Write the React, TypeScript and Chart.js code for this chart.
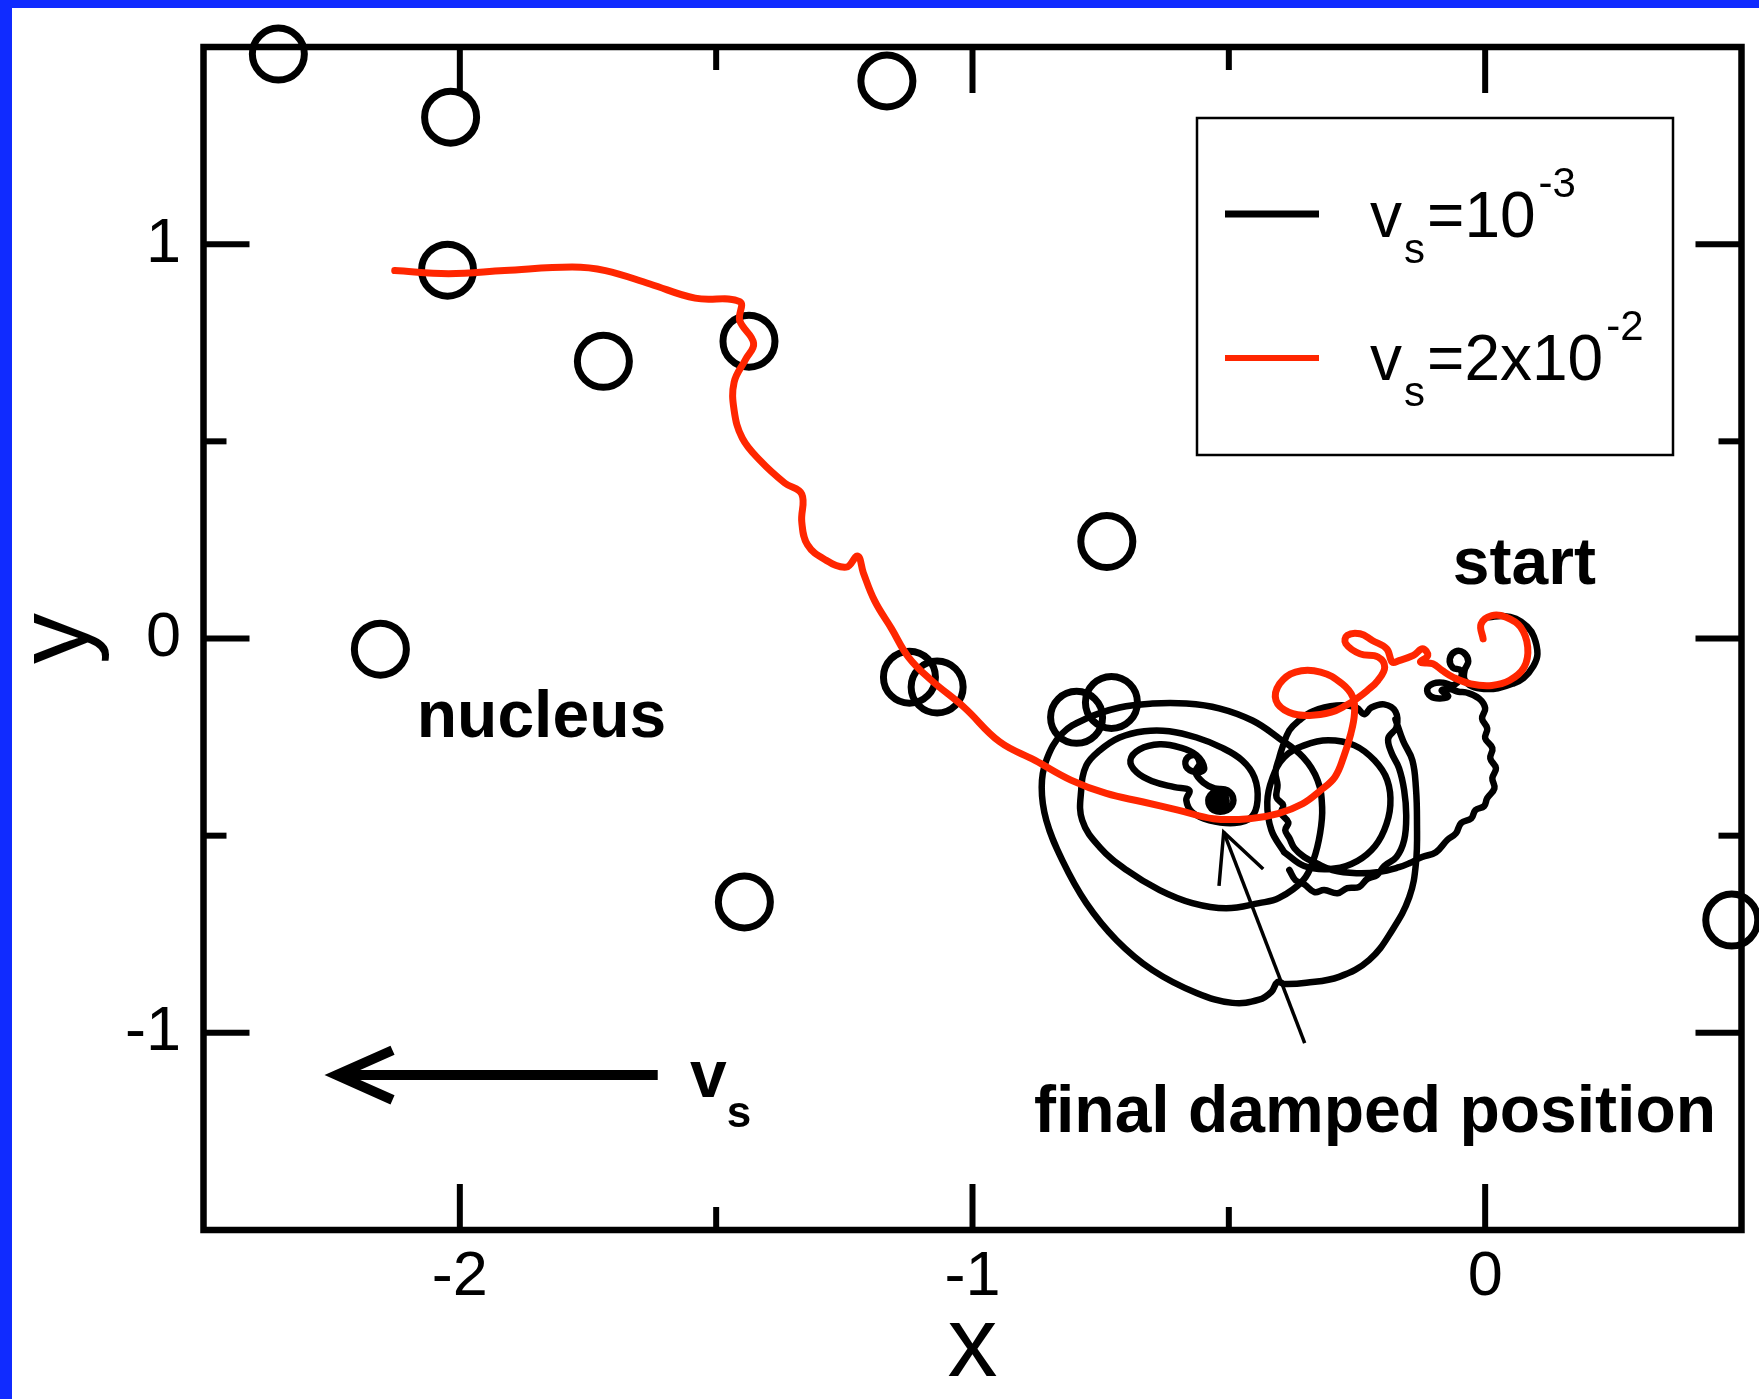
import React, { useEffect, useRef } from "react";
import { Chart, registerables } from "chart.js";

Chart.register(...registerables);

// ---------- data ----------
const X_MIN = -2.5;
const X_MAX = 0.5;
const Y_MIN = -1.5;
const Y_MAX = 1.5;
const X_MAJOR = [-2, -1, 0];
const X_MINOR = [-1.5, -0.5];
const Y_MAJOR = [-1, 0, 1];
const Y_MINOR = [-0.5, 0.5];

// pinning sites (open circles)
const PINS: [number, number][] = [
  [-2.354, 1.482], [-2.018, 1.322], [-1.167, 1.414], [-2.024, 0.934],
  [-1.72, 0.703], [-1.436, 0.754], [-0.738, 0.246], [-2.155, -0.027],
  [-1.123, -0.098], [-1.069, -0.123], [-0.797, -0.2], [-0.729, -0.162],
  [-1.445, -0.668], [0.481, -0.714],
];

// red trajectory, v_s = 2x10^-2 (from start to end)
const RED_PATH: [number, number][] = [
  [-0.004, -0.001], [-0.008, 0.037], [0.013, 0.058], [0.041, 0.054], [0.069, 0.029],
  [0.083, -0.022], [0.076, -0.073], [0.048, -0.106], [0.013, -0.119], [-0.028, -0.115],
  [-0.063, -0.098], [-0.084, -0.081], [-0.102, -0.064], [-0.126, -0.06], [-0.112, -0.043],
  [-0.122, -0.026], [-0.14, -0.043], [-0.168, -0.056], [-0.181, -0.06], [-0.192, -0.026],
  [-0.22, -0.005], [-0.244, 0.012], [-0.269, 0.008], [-0.272, -0.013], [-0.244, -0.039],
  [-0.209, -0.047], [-0.196, -0.073], [-0.209, -0.106], [-0.23, -0.132], [-0.251, -0.153],
  [-0.272, -0.17], [-0.3, -0.187], [-0.342, -0.195], [-0.383, -0.187], [-0.408, -0.157],
  [-0.401, -0.115], [-0.37, -0.085], [-0.321, -0.085], [-0.279, -0.115], [-0.258, -0.149],
  [-0.255, -0.191], [-0.262, -0.241], [-0.276, -0.3], [-0.293, -0.351], [-0.321, -0.385],
  [-0.356, -0.419], [-0.404, -0.444], [-0.46, -0.457], [-0.53, -0.457], [-0.599, -0.435],
  [-0.669, -0.414], [-0.739, -0.393], [-0.808, -0.359], [-0.878, -0.309], [-0.947, -0.262],
  [-1.016, -0.175], [-1.082, -0.104], [-1.125, -0.047], [-1.158, 0.025], [-1.191, 0.096],
  [-1.213, 0.167], [-1.224, 0.209], [-1.246, 0.181], [-1.289, 0.201], [-1.322, 0.238],
  [-1.333, 0.295], [-1.333, 0.366], [-1.366, 0.394], [-1.414, 0.451], [-1.449, 0.508],
  [-1.465, 0.579], [-1.465, 0.65], [-1.443, 0.707], [-1.427, 0.749], [-1.454, 0.806],
  [-1.454, 0.854], [-1.541, 0.863], [-1.629, 0.899], [-1.716, 0.933], [-1.781, 0.942],
  [-1.913, 0.933], [-2.022, 0.925], [-2.127, 0.933],
];

// black trajectory, v_s = 10^-3, in three drawn pieces
const BLACK_START: [number, number][] = [
  [0.008, 0.054], [0.035, 0.057], [0.06, 0.05], [0.082, 0.03], [0.095, 0.005], [0.102, -0.039],
  [0.094, -0.07], [0.075, -0.1], [0.053, -0.115], [0.025, -0.126], [0.0, -0.128], [-0.025, -0.122],
  [-0.04, -0.105], [-0.04, -0.08], [-0.033, -0.058], [-0.042, -0.036], [-0.058, -0.033],
  [-0.069, -0.052], [-0.063, -0.074], [-0.048, -0.08], [-0.047, -0.098],
  [-0.062, -0.118], [-0.082, -0.112], [-0.101, -0.114], [-0.113, -0.128], [-0.106, -0.147],
  [-0.088, -0.152], [-0.072, -0.146], [-0.085, -0.132], [-0.07, -0.128], [-0.052, -0.135],
  [-0.037, -0.137],
  [-0.012, -0.152], [0.0, -0.177], [-0.006, -0.203], [0.004, -0.228], [0.0, -0.253],
  [0.014, -0.278], [0.01, -0.304], [0.021, -0.329], [0.014, -0.354], [0.018, -0.38],
  [0.004, -0.405], [-0.002, -0.425], [-0.019, -0.435], [-0.027, -0.456], [-0.047, -0.468],
  [-0.057, -0.494], [-0.074, -0.511], [-0.096, -0.542], [-0.123, -0.554], [-0.148, -0.57],
  [-0.168, -0.58], [-0.207, -0.592], [-0.251, -0.595], [-0.298, -0.587], [-0.329, -0.57],
  [-0.353, -0.554], [-0.372, -0.532],
  [-0.382, -0.506], [-0.39, -0.486], [-0.384, -0.466], [-0.398, -0.443], [-0.394, -0.423],
  [-0.407, -0.403], [-0.405, -0.372], [-0.409, -0.339], [-0.402, -0.304], [-0.396, -0.278],
  [-0.382, -0.233], [-0.363, -0.208], [-0.337, -0.185], [-0.29, -0.17], [-0.251, -0.175],
  [-0.236, -0.192], [-0.222, -0.175], [-0.197, -0.167], [-0.175, -0.185], [-0.173, -0.225],
  [-0.189, -0.253],
  [-0.183, -0.289], [-0.168, -0.329], [-0.158, -0.385], [-0.154, -0.448], [-0.158, -0.511],
  [-0.173, -0.554],
  [-0.197, -0.577], [-0.211, -0.6], [-0.23, -0.61], [-0.246, -0.63], [-0.269, -0.633],
  [-0.288, -0.646], [-0.314, -0.638], [-0.333, -0.643], [-0.353, -0.623], [-0.37, -0.613],
  [-0.382, -0.587],
];

const BLACK_LOOP: [number, number][] = [
  [-0.392, -0.542], [-0.417, -0.486], [-0.425, -0.415], [-0.415, -0.354], [-0.392, -0.301],
  [-0.353, -0.271], [-0.306, -0.258], [-0.255, -0.271], [-0.216, -0.309], [-0.191, -0.359],
  [-0.185, -0.423], [-0.197, -0.486], [-0.222, -0.537], [-0.261, -0.572], [-0.306, -0.585],
  [-0.353, -0.577], [-0.392, -0.542],
];

const BLACK_SPIRAL: [number, number][] = [
  [-0.175, -0.205], [-0.16, -0.26], [-0.142, -0.309], [-0.135, -0.38], [-0.133, -0.461],
  [-0.135, -0.57], [-0.148, -0.656], [-0.181, -0.739], [-0.226, -0.815], [-0.285, -0.858],
  [-0.349, -0.873], [-0.392, -0.876], [-0.405, -0.871], [-0.417, -0.896], [-0.441, -0.916],
  [-0.493, -0.924], [-0.563, -0.899], [-0.649, -0.841], [-0.719, -0.765], [-0.778, -0.671],
  [-0.825, -0.562], [-0.856, -0.461], [-0.865, -0.377], [-0.856, -0.309], [-0.825, -0.241],
  [-0.778, -0.203], [-0.713, -0.175], [-0.649, -0.165], [-0.583, -0.165], [-0.519, -0.177],
  [-0.454, -0.208], [-0.402, -0.253], [-0.355, -0.301], [-0.327, -0.359], [-0.318, -0.428],
  [-0.322, -0.494], [-0.335, -0.562], [-0.355, -0.613], [-0.402, -0.658], [-0.441, -0.671],
  [-0.505, -0.684], [-0.571, -0.671], [-0.635, -0.638], [-0.7, -0.587], [-0.752, -0.529],
  [-0.786, -0.461], [-0.788, -0.385], [-0.778, -0.322], [-0.752, -0.284], [-0.713, -0.251],
  [-0.665, -0.235], [-0.616, -0.235], [-0.563, -0.251], [-0.515, -0.276], [-0.474, -0.309],
  [-0.45, -0.352], [-0.444, -0.41], [-0.456, -0.453], [-0.489, -0.468], [-0.538, -0.461],
  [-0.571, -0.441], [-0.583, -0.41], [-0.577, -0.385],
  [-0.606, -0.377], [-0.649, -0.362], [-0.68, -0.339], [-0.692, -0.309], [-0.674, -0.281],
  [-0.635, -0.268], [-0.596, -0.276], [-0.563, -0.296], [-0.548, -0.329],
  [-0.559, -0.339], [-0.581, -0.329], [-0.583, -0.306], [-0.567, -0.296], [-0.557, -0.316],
  [-0.565, -0.339],
  [-0.55, -0.365], [-0.528, -0.38], [-0.503, -0.385], [-0.491, -0.41], [-0.503, -0.435],
  [-0.53, -0.435], [-0.54, -0.41], [-0.528, -0.39], [-0.507, -0.4], [-0.507, -0.423],
  [-0.526, -0.423], [-0.526, -0.403], [-0.513, -0.41], [-0.519, -0.415],
];

// annotations (anchors in data units)
const LABELS = [
  { text: "nucleus", x: -2.084, y: -0.25 },
  { text: "start", x: -0.063, y: 0.138 },
  { text: "final damped position", x: -0.88, y: -1.252 },
];
const VS_LABEL = { x: -1.551, y: -1.163 };
const VS_ARROW = { from: [-1.614, -1.107], to: [-2.24, -1.107] };
const FINAL_ARROW = { from: [-0.352, -1.026], to: [-0.51, -0.491] };

const LEGEND_ROWS = [
  { base: "10", sup: "-3", color: "#000000", width: 7 },
  { base: "2x10", sup: "-2", color: "#ff2600", width: 6 },
];

// ---------- styling ----------
const FONT = "'Liberation Sans', Arial, Helvetica, sans-serif";
const RED = "#ff2600";
const BLUE = "#102bff";

const toPts = (arr: [number, number][]) => arr.map(([x, y]) => ({ x, y }));
const GAP = { x: null as any, y: null as any };

function arrow(ctx: CanvasRenderingContext2D, x0: number, y0: number, x1: number, y1: number, lw: number, wing: number, ang: number) {
  ctx.save();
  ctx.strokeStyle = "#000";
  ctx.lineWidth = lw;
  ctx.lineCap = "butt";
  ctx.beginPath();
  ctx.moveTo(x0, y0);
  ctx.lineTo(x1, y1);
  ctx.stroke();
  const a = Math.atan2(y0 - y1, x0 - x1);
  ctx.beginPath();
  ctx.moveTo(x1 + wing * Math.cos(a + ang), y1 + wing * Math.sin(a + ang));
  ctx.lineTo(x1, y1);
  ctx.lineTo(x1 + wing * Math.cos(a - ang), y1 + wing * Math.sin(a - ang));
  ctx.lineJoin = "miter";
  ctx.stroke();
  ctx.restore();
}

const zeroPadding = (s: any) => {
  s.paddingTop = 0;
  s.paddingBottom = 0;
  s.paddingLeft = 0;
  s.paddingRight = 0;
};

const overlayPlugin = {
  id: "overlay",
  beforeDatasetsDraw(chart: any) {
    const { ctx, chartArea: a, scales } = chart;
    const xs = scales.x;
    const ys = scales.y;
    ctx.save();
    ctx.strokeStyle = "#000";
    ctx.lineWidth = 6.5;
    ctx.strokeRect(a.left, a.top, a.right - a.left, a.bottom - a.top);
    ctx.lineWidth = 6;
    const tick = (x0: number, y0: number, x1: number, y1: number) => {
      ctx.beginPath();
      ctx.moveTo(x0, y0);
      ctx.lineTo(x1, y1);
      ctx.stroke();
    };
    for (const v of [...X_MAJOR, ...X_MINOR]) {
      const len = X_MAJOR.includes(v) ? 46 : 23;
      const p = xs.getPixelForValue(v);
      tick(p, a.bottom, p, a.bottom - len);
      tick(p, a.top, p, a.top + len);
    }
    for (const v of [...Y_MAJOR, ...Y_MINOR]) {
      const len = Y_MAJOR.includes(v) ? 46 : 23;
      const p = ys.getPixelForValue(v);
      tick(a.left, p, a.left + len, p);
      tick(a.right, p, a.right - len, p);
    }
    ctx.restore();
  },
  afterDraw(chart: any) {
    const { ctx, chartArea: a, scales } = chart;
    const xs = scales.x;
    const ys = scales.y;
    const px = (v: number) => xs.getPixelForValue(v);
    const py = (v: number) => ys.getPixelForValue(v);
    ctx.save();
    ctx.fillStyle = "#000";
    ctx.textBaseline = "alphabetic";
    ctx.textAlign = "left";
    ctx.font = `bold 66px ${FONT}`;
    for (const l of LABELS) ctx.fillText(l.text, px(l.x), py(l.y));

    // v_s label
    const vx = px(VS_LABEL.x);
    const vy = py(VS_LABEL.y);
    ctx.font = `bold 66px ${FONT}`;
    ctx.fillText("v", vx, vy);
    const vw = ctx.measureText("v").width;
    ctx.font = `bold 44px ${FONT}`;
    ctx.fillText("s", vx + vw, vy + 30);

    arrow(ctx, px(VS_ARROW.from[0]), py(VS_ARROW.from[1]), px(VS_ARROW.to[0]), py(VS_ARROW.to[1]), 10, 61, (24 * Math.PI) / 180);
    arrow(ctx, px(FINAL_ARROW.from[0]), py(FINAL_ARROW.from[1]), px(FINAL_ARROW.to[0]), py(FINAL_ARROW.to[1]), 3.5, 54, (26 * Math.PI) / 180);

    // legend
    const bx = a.left + 993.5;
    const by = a.top + 71;
    ctx.lineWidth = 2.5;
    ctx.strokeStyle = "#000";
    ctx.strokeRect(bx, by, 476, 337);
    LEGEND_ROWS.forEach((r, i) => {
      const ly = by + 96 + i * 144;
      ctx.strokeStyle = r.color;
      ctx.lineWidth = r.width;
      ctx.beginPath();
      ctx.moveTo(bx + 28, ly);
      ctx.lineTo(bx + 122, ly);
      ctx.stroke();
      const base = by + 119 + i * 143;
      let x = bx + 173;
      ctx.fillStyle = "#000";
      ctx.font = `64px ${FONT}`;
      ctx.fillText("v", x, base);
      x += ctx.measureText("v").width + 2;
      ctx.font = `42px ${FONT}`;
      ctx.fillText("s", x, base + 26);
      x += ctx.measureText("s").width + 2;
      ctx.font = `64px ${FONT}`;
      const main = "=" + r.base;
      ctx.fillText(main, x, base);
      x += ctx.measureText(main).width + 3;
      ctx.font = `42px ${FONT}`;
      ctx.fillText(r.sup, x, base - 40);
    });
    ctx.restore();
  },
};

export default function App() {
  const ref = useRef<HTMLCanvasElement | null>(null);
  useEffect(() => {
    if (!ref.current) return;
    const blackData = [...toPts(BLACK_START), GAP, ...toPts(BLACK_LOOP), GAP, ...toPts(BLACK_SPIRAL)];
    const lineCommon = {
      showLine: true,
      pointRadius: 0,
      pointHoverRadius: 0,
      tension: 0.4,
      spanGaps: false,
      borderJoinStyle: "round",
      borderCapStyle: "round",
      fill: false,
      clip: false,
    };
    const chart = new Chart(ref.current, {
      type: "scatter",
      data: {
        datasets: [
          { ...lineCommon, label: "vs=2x10^-2", data: toPts(RED_PATH), borderColor: RED, backgroundColor: RED, borderWidth: 7 } as any,
          { ...lineCommon, label: "vs=10^-3", data: blackData, borderColor: "#000", backgroundColor: "#000", borderWidth: 6.5 } as any,
          {
            label: "pins",
            data: toPts(PINS),
            showLine: false,
            pointStyle: "circle",
            pointRadius: 26,
            pointHoverRadius: 26,
            pointBorderWidth: 7,
            borderWidth: 7,
            borderColor: "#000",
            backgroundColor: "rgba(0,0,0,0)",
            clip: false,
          } as any,
        ],
      },
      options: {
        animation: false,
        responsive: false,
        devicePixelRatio: 1,
        events: [],
        layout: { autoPadding: false, padding: { left: 0, top: 47, right: 17.5, bottom: 0 } },
        plugins: { legend: { display: false }, tooltip: { enabled: false } },
        scales: {
          x: {
            type: "linear",
            position: "bottom",
            min: X_MIN,
            max: X_MAX,
            grid: { display: false, drawTicks: false },
            border: { display: false },
            ticks: {
              color: "#000",
              font: { family: FONT, size: 63 },
              padding: 10,
              maxRotation: 0,
              autoSkip: false,
              callback: (v: any) => (X_MAJOR.includes(Number(v)) ? String(v) : ""),
            },
            title: { display: true, text: "x", color: "#000", font: { family: FONT, size: 100, lineHeight: 1 }, padding: { top: 0, bottom: 1 } },
            afterBuildTicks: (s: any) => {
              s.ticks = [...X_MAJOR, ...X_MINOR].sort((a, b) => a - b).map((v) => ({ value: v }));
            },
            afterFit: (s: any) => {
              s.height = 169;
              zeroPadding(s);
            },
          },
          y: {
            type: "linear",
            position: "left",
            min: Y_MIN,
            max: Y_MAX,
            grid: { display: false, drawTicks: false },
            border: { display: false },
            ticks: {
              color: "#000",
              font: { family: FONT, size: 63 },
              padding: 22.5,
              autoSkip: false,
              callback: (v: any) => (Y_MAJOR.includes(Number(v)) ? String(v) : ""),
            },
            title: { display: true, text: "y", color: "#000", font: { family: FONT, size: 102, lineHeight: 1 }, padding: { top: 9, bottom: 0 } },
            afterBuildTicks: (s: any) => {
              s.ticks = [...Y_MAJOR, ...Y_MINOR].sort((a, b) => a - b).map((v) => ({ value: v }));
            },
            afterFit: (s: any) => {
              s.width = 203.5;
              zeroPadding(s);
            },
          },
        },
      } as any,
      plugins: [overlayPlugin],
    });
    return () => chart.destroy();
  }, []);

  return (
    <div style={{ position: "absolute", left: 0, top: 0, width: 1759, height: 1399, background: "#fff", overflow: "hidden" }}>
      <canvas ref={ref} width={1759} height={1399} style={{ position: "absolute", left: 0, top: 0, width: 1759, height: 1399 }} />
      <div style={{ position: "absolute", left: 0, top: 0, width: 12, height: 1399, background: BLUE }} />
      <div style={{ position: "absolute", left: 0, top: 0, width: 1759, height: 8, background: BLUE }} />
    </div>
  );
}
